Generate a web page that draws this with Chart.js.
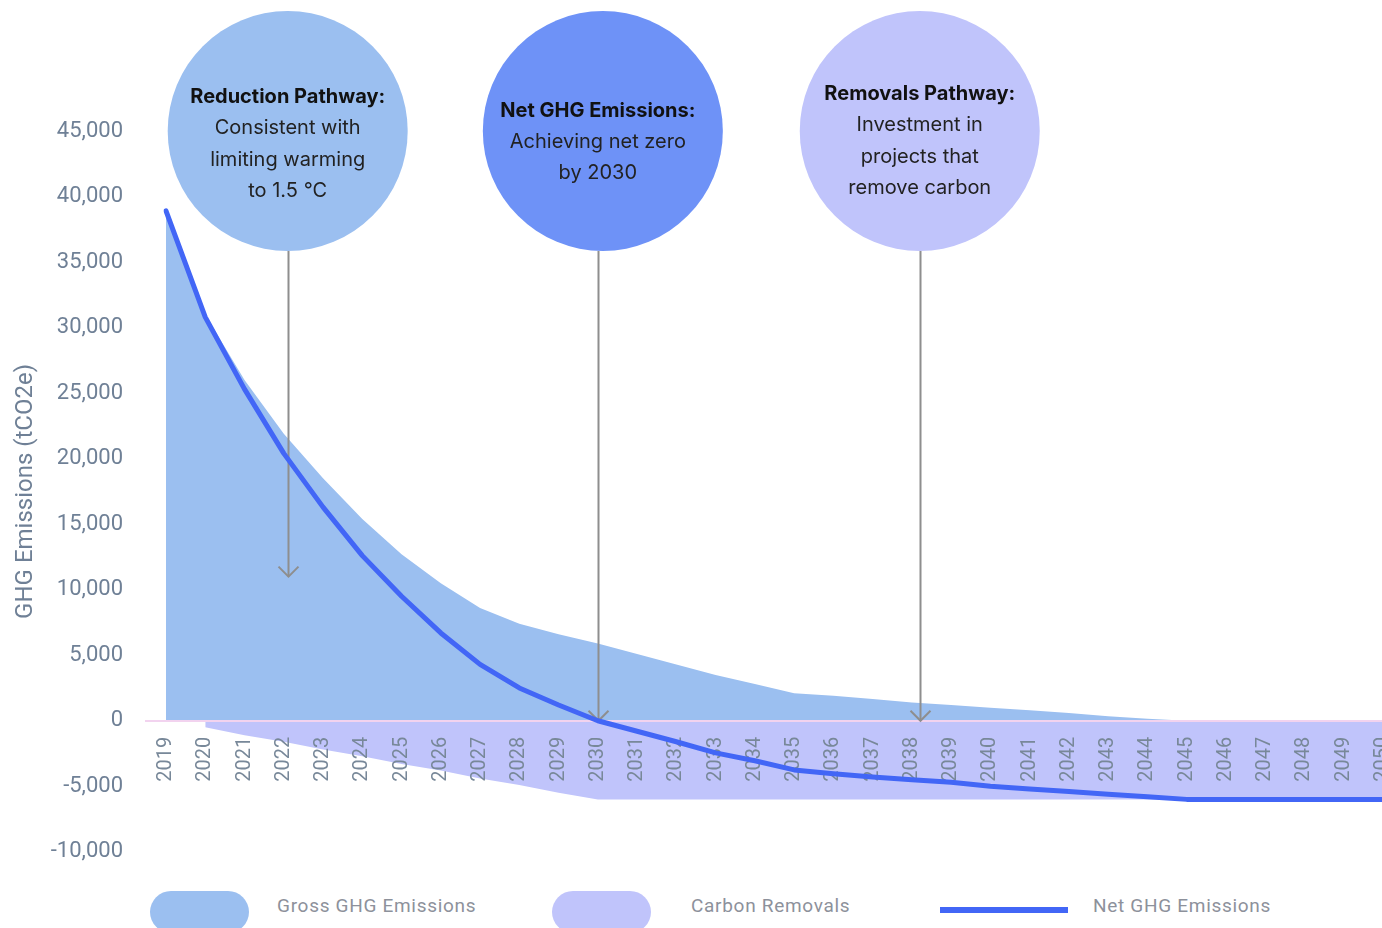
<!DOCTYPE html>
<html>
<head>
<meta charset="utf-8">
<script src="https://cdn.jsdelivr.net/npm/chart.js@4/dist/chart.umd.min.js"></script>
<style>
  html, body { margin: 0; padding: 0; background: #fff; overflow: hidden; }
  #wrap { position: relative; width: 1382px; height: 928px; overflow: hidden; }
  #chart { position: absolute; left: 0; top: 0; }
  .swatch { position: absolute; top: 891px; width: 99px; height: 42px; border-radius: 21px; }
  .line-swatch { position: absolute; left: 940px; top: 907px; width: 128px; height: 6px; background: #4266f6; }
  .lbl { position: absolute; top: 894px; font: 19px Roboto, sans-serif; letter-spacing: 0.7px; color: #8d919b; line-height: 24px; }
</style>
</head>
<body>
<div id="wrap">
  <canvas id="chart" width="1400" height="887"></canvas>
  <div class="swatch" style="left:150px;background:#9bbff0"></div>
  <div class="lbl" style="left:277px">Gross GHG Emissions</div>
  <div class="swatch" style="left:552px;background:#c0c4fb"></div>
  <div class="lbl" style="left:691px">Carbon Removals</div>
  <div class="line-swatch"></div>
  <div class="lbl" style="left:1093px">Net GHG Emissions</div>
</div>
<script>
const YEARS = ['2019', '2020', '2021', '2022', '2023', '2024', '2025', '2026', '2027', '2028',
  '2029', '2030', '2031', '2032', '2033', '2034', '2035', '2036', '2037', '2038', '2039',
  '2040', '2041', '2042', '2043', '2044', '2045', '2046', '2047', '2048', '2049', '2050'];

// tCO2e per year
const GROSS = [38900, 31000, 26000, 21900, 18500, 15400, 12700, 10500, 8600, 7400,
  6600, 5900, 5100, 4300, 3500, 2800, 2100, 1900, 1650, 1400, 1200,
  1000, 800, 600, 350, 150, 0, 0, 0, 0, 0, 0];
const REMOVALS = [null, -500, -1100, -1600, -2200, -2700, -3300, -3800, -4400, -4900,
  -5500, -6000, -6000, -6000, -6000, -6000, -6000, -6000, -6000, -6000, -6000,
  -6000, -6000, -6000, -6000, -6000, -6000, -6000, -6000, -6000, -6000, -6000];
const NET = [38900, 30800, 25300, 20400, 16300, 12600, 9500, 6700, 4300, 2500,
  1200, 0, -800, -1600, -2450, -3050, -3750, -4050, -4300, -4500, -4700,
  -5000, -5200, -5400, -5600, -5800, -6000, -6000, -6000, -6000, -6000, -6000];

const Y_MIN = -10000;
const Y_MAX = 45000;
const Y_STEP = 5000;

// callout bubbles: category position of the arrow, value the arrow points at
const CALLOUT_AT = [3.1, 11, 19.2];
const CALLOUT_TIP = [11000, 0, 0];
const CALLOUT_TITLES = ['Reduction Pathway:', 'Net GHG Emissions:', 'Removals Pathway:'];
const CALLOUT_TEXT = [
  ['Consistent with', 'limiting warming', 'to 1.5 °C'],
  ['Achieving net zero', 'by 2030'],
  ['Investment in', 'projects that', 'remove carbon'],
];
const CALLOUT_COLORS = ['#9bbff0', '#6e92f7', '#c0c4fb'];

const BUBBLE_R = 120;
const BUBBLE_NUDGE = [0, 5, 0];   // bubble sits a touch off its arrow
const TEXT_DROP = [13, 11, 10];
const ARROW_COLOR = '#8e8e8e';
const TICK_COLOR = '#6f8096';

const callouts = {
  id: 'callouts',
  beforeDatasetsDraw(chart) {
    const { ctx, scales: { x, y } } = chart;
    const cy = y.getPixelForValue(Y_MAX);
    ctx.save();
    ctx.strokeStyle = ARROW_COLOR;
    ctx.lineWidth = 2;
    CALLOUT_AT.forEach((pos, i) => {
      const cx = Math.round(x.getPixelForValue(pos)) + 0.5;
      const tip = y.getPixelForValue(CALLOUT_TIP[i]);
      ctx.beginPath();
      ctx.moveTo(cx, cy + BUBBLE_R);
      ctx.lineTo(cx, tip);
      ctx.stroke();
      ctx.beginPath();
      ctx.moveTo(cx - 10, tip - 10);
      ctx.lineTo(cx, tip);
      ctx.lineTo(cx + 10, tip - 10);
      ctx.stroke();
    });
    ctx.restore();
  },
  afterDraw(chart) {
    const { ctx, scales: { x, y } } = chart;
    const cy = y.getPixelForValue(Y_MAX);
    ctx.save();
    CALLOUT_AT.forEach((pos, i) => {
      const cx = x.getPixelForValue(pos);
      ctx.fillStyle = CALLOUT_COLORS[i];
      ctx.beginPath();
      ctx.arc(cx + BUBBLE_NUDGE[i], cy, BUBBLE_R, 0, Math.PI * 2);
      ctx.fill();

      const lines = [CALLOUT_TITLES[i], ...CALLOUT_TEXT[i]];
      const lh = 31.3;
      let ty = cy + TEXT_DROP[i] - (lines.length - 1) * lh / 2;
      ctx.textAlign = 'center';
      ctx.textBaseline = 'middle';
      lines.forEach((t, j) => {
        ctx.font = j === 0 ? 'bold 20px Inter, sans-serif' : '20px Inter, sans-serif';
        ctx.fillStyle = j === 0 ? '#111' : '#222';
        ctx.fillText(t, cx, ty);
        ty += lh;
      });
    });
    ctx.restore();
  }
};

new Chart(document.getElementById('chart'), {
  type: 'line',
  data: {
    labels: YEARS,
    datasets: [
      {
        label: 'Net GHG Emissions',
        data: NET,
        borderColor: '#4266f6',
        borderWidth: 5,
        borderCapStyle: 'round',
        borderJoinStyle: 'round',
        pointRadius: 0,
        fill: false,
        order: 0,
      },
      {
        label: 'Gross GHG Emissions',
        data: GROSS,
        backgroundColor: '#9bbff0',
        borderWidth: 0,
        pointRadius: 0,
        fill: 'origin',
        order: 1,
      },
      {
        label: 'Carbon Removals',
        data: REMOVALS,
        backgroundColor: '#c0c4fb',
        borderWidth: 0,
        pointRadius: 0,
        fill: 'origin',
        order: 2,
      },
    ],
  },
  options: {
    responsive: false,
    animation: false,
    layout: { padding: { top: 131, bottom: 19, left: 0, right: 17 } },
    plugins: {
      legend: { display: false },
      tooltip: { enabled: false },
      filler: { drawTime: 'beforeDraw' },
    },
    scales: {
      x: {
        position: { y: 0 },
        offset: false,
        grid: { display: false },
        border: { display: false },
        ticks: {
          autoSkip: false,
          minRotation: 90,
          maxRotation: 90,
          padding: 8,
          color: '#788899',
          font: { family: 'Roboto', size: 20 },
        },
        afterFit(scale) {
          scale.paddingLeft = 0;
          scale.paddingRight = 0;
        },
      },
      y: {
        min: Y_MIN,
        max: Y_MAX,
        border: { display: false },
        grid: {
          color: ctx => (ctx.tick && ctx.tick.value === 0 ? '#f2d3ef' : 'rgba(0,0,0,0)'),
          lineWidth: 2,
          tickLength: 21,
        },
        ticks: {
          stepSize: Y_STEP,
          padding: 22,
          color: TICK_COLOR,
          font: { family: 'Roboto', size: 22 },
          callback: v => v.toLocaleString('en-US'),
        },
        title: {
          display: true,
          text: 'GHG Emissions (tCO2e)',
          color: TICK_COLOR,
          font: { family: 'Roboto', size: 24 },
          padding: { top: 12, bottom: 0 },
        },
        afterFit(scale) {
          scale.width = 166;
        },
      },
    },
  },
  plugins: [callouts],
});
</script>
</body>
</html>
